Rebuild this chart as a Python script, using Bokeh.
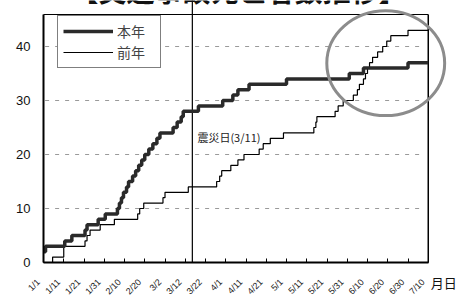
import math
from bokeh.plotting import figure
from bokeh.models import (FixedTicker, Label, Legend, LegendItem, Range1d, LinearAxis)
from bokeh.embed import file_html
from bokeh.resources import INLINE

# ---- data (day index from 1/1, cumulative count) ----
this_day = [0, 1, 10.5, 14, 20.5, 21.5, 27, 30.5, 36.5, 37.5, 38.5, 39.5, 41, 42, 44, 45.5,
            47, 48.5, 50, 52, 54, 56, 57.5, 64, 66, 68, 69, 76.5, 88.5, 93.5, 96, 101.5,
            120, 151, 158, 180, 190]
this_val = [2, 3, 4, 5, 6, 7, 8, 9, 10, 11, 12, 13, 14, 15, 16, 17, 18, 19, 20, 21, 22, 23,
            24, 25, 26, 27, 28, 29, 30, 31, 32, 33, 34, 35, 36, 37, 37]

prev_day = [0, 4.5, 10, 20.5, 21.5, 23, 28, 35, 46.5, 47.5, 49.5, 59, 60, 71.5, 85.5, 87, 88,
            92.5, 96, 99, 106.5, 108.5, 112, 118.5, 133.5, 134.5, 135, 144, 145.5, 148, 153,
            155, 156, 158, 159, 160, 161, 162.5, 165, 167.5, 169.5, 171.5, 180, 190]
prev_val = [0, 1, 3, 4, 5, 6, 7, 8, 9, 10, 11, 12, 13, 14, 15, 16, 17, 18, 19, 20, 21, 22, 23,
            24, 25, 26, 27, 28, 29, 30, 31, 32, 33, 34, 35, 36, 37, 38, 39, 40, 41, 42, 43, 43]

tick_days = [0, 10, 20, 30, 40, 50, 60, 70, 80, 90, 100, 110, 120, 130, 140, 150, 160, 170, 180, 190]
tick_labels = ["1/1", "1/11", "1/21", "1/31", "2/10", "2/20", "3/2", "3/12", "3/22", "4/1",
               "4/11", "4/21", "5/1", "5/11", "5/21", "5/31", "6/10", "6/20", "6/30", "7/10"]
y_ticks = [0, 10, 20, 30, 40]

series_names = ["本年", "前年"]
title_text = "【交通事故死亡者数推移】"
quake_text = "震災日(3/11)"
axis_unit = "月日"

X_START, X_STOP = -21.235, 204.44
X_END = 190
Y_TOP = 45.93
Y_MAX = 48.52
QUAKE_X = 73.5
LABEL_SHIFT = 2.5

p = figure(width=457, height=298, output_backend="svg", toolbar_location=None,
           x_range=Range1d(X_START, X_STOP), y_range=Range1d(-6.667, Y_MAX),
           min_border_left=0, min_border_right=0, min_border_top=0, min_border_bottom=0)
p.outline_line_color = None
p.xgrid.visible = False
p.ygrid.visible = False
p.background_fill_color = "white"

# grid lines (dashed)
for g in y_ticks[1:]:
    p.line([0.8, 187], [g, g], line_color="#9a9a9a", line_width=1, line_dash="4 6")

# frame top/right borders
p.line([0, X_END], [Y_TOP, Y_TOP], line_color="black", line_width=1.2)
p.line([X_END, X_END], [0, Y_TOP], line_color="black", line_width=1.5)

# quake line
p.line([QUAKE_X, QUAKE_X], [0, Y_MAX], line_color="black", line_width=1.2)

r_prev = p.step(prev_day, prev_val, mode="after", line_color="black", line_width=1.2)
r_this = p.step(this_day, this_val, mode="after", line_color="#2a2a2a", line_width=3.5)

# highlight circle
p.ellipse(x=[169], y=[36.9], width=[58.2], height=[19.4], fill_color=None,
          line_color="#8c8c8c", line_width=3)

# x axis: line + inward ticks
xa = p.xaxis[0]
xa.fixed_location = 0
xa.ticker = FixedTicker(ticks=tick_days)
xa.major_label_overrides = {d: "" for d in tick_days}
xa.major_label_text_color = None
xa.major_tick_in = 4
xa.major_tick_out = 0
xa.minor_tick_line_color = None
xa.axis_line_width = 2
xa.bounds = (0, X_END)

# x axis tick labels (rotated, set slightly left as in the original)
p.extra_x_ranges = {"lab": Range1d(X_START + LABEL_SHIFT, X_STOP + LABEL_SHIFT)}
lab_axis = LinearAxis(x_range_name="lab", ticker=FixedTicker(ticks=tick_days),
                      fixed_location=0,
                      major_label_overrides={d: l for d, l in zip(tick_days, tick_labels)},
                      major_label_orientation=math.pi / 4,
                      major_label_text_font="Liberation Sans",
                      major_label_text_font_size="9px",
                      major_label_text_color="#222222",
                      major_label_standoff=12,
                      axis_line_color=None, major_tick_line_color=None,
                      minor_tick_line_color=None)
p.add_layout(lab_axis, "below")

ya = p.yaxis[0]
ya.fixed_location = 0
ya.ticker = FixedTicker(ticks=y_ticks)
ya.major_label_text_font = "Liberation Sans"
ya.major_label_text_font_size = "13px"
ya.major_label_text_color = "#111111"
ya.major_label_standoff = 13
ya.major_tick_in = 0
ya.major_tick_out = 0
ya.minor_tick_line_color = None
ya.axis_line_width = 2
ya.bounds = (0, Y_TOP)

legend = Legend(items=[LegendItem(label=series_names[0], renderers=[r_this]),
                       LegendItem(label=series_names[1], renderers=[r_prev])],
                location=(57, 230))
legend.border_line_color = "black"
legend.border_line_width = 1.2
legend.padding = 5
legend.spacing = 1
legend.glyph_width = 50
legend.glyph_height = 20
legend.label_height = 20
legend.label_width = 38
legend.label_standoff = 4
legend.label_text_font = "Noto Sans CJK JP"
legend.label_text_font_size = "14px"
legend.background_fill_alpha = 1
p.add_layout(legend)

p.add_layout(Label(x=76, y=23.3, text=quake_text, text_font="Noto Sans CJK JP",
                   text_font_size="11px", text_baseline="middle", text_color="#222222"))
p.add_layout(Label(x=191.2, y=-5.5, text=axis_unit, text_font="Noto Sans CJK JP",
                   text_font_size="13px", text_baseline="bottom", text_color="#111111"))
p.add_layout(Label(x=96.3, y=46.76, text=title_text, text_font="Noto Sans CJK JP",
                   text_font_size="28px", text_font_style="bold", text_align="center",
                   text_baseline="bottom", text_color="#111111"))

open("out.html", "w").write(file_html(p, INLINE))
